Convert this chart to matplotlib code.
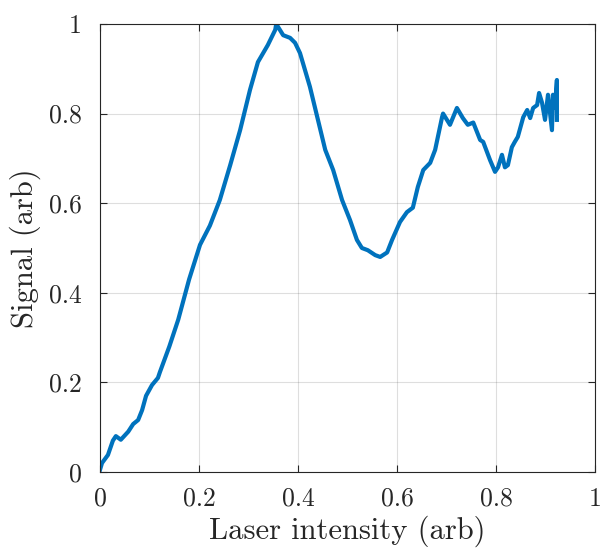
import numpy as np
import matplotlib.pyplot as plt

plt.rcParams['font.family'] = 'serif'
plt.rcParams['font.serif'] = ['cmr10']
plt.rcParams['mathtext.fontset'] = 'cm'
plt.rcParams['axes.formatter.use_mathtext'] = True

# valeurs
intensity = [0.0, 0.004, 0.016, 0.026, 0.032, 0.042, 0.057, 0.067, 0.077, 0.085,
             0.093, 0.105, 0.117, 0.121, 0.14, 0.158, 0.18, 0.202, 0.222, 0.242,
             0.263, 0.283, 0.303, 0.319, 0.339, 0.354, 0.356, 0.37, 0.384, 0.394,
             0.404, 0.424, 0.455, 0.471, 0.489, 0.505, 0.519, 0.529, 0.541, 0.556,
             0.566, 0.58, 0.59, 0.606, 0.62, 0.632, 0.642, 0.653, 0.667, 0.677,
             0.691, 0.693, 0.707, 0.721, 0.733, 0.743, 0.754, 0.768, 0.774, 0.788,
             0.798, 0.804, 0.812, 0.818, 0.824, 0.832, 0.838, 0.844, 0.855, 0.863,
             0.869, 0.875, 0.883, 0.887, 0.893, 0.899, 0.905, 0.913, 0.915, 0.919,
             0.923, 0.923]
signal = [0.005, 0.02, 0.038, 0.07, 0.08, 0.072, 0.09, 0.107, 0.116, 0.138,
          0.17, 0.194, 0.21, 0.223, 0.28, 0.34, 0.43, 0.507, 0.55, 0.607,
          0.685, 0.763, 0.853, 0.915, 0.953, 0.987, 1.0, 0.975, 0.969, 0.958,
          0.935, 0.86, 0.719, 0.674, 0.607, 0.5625, 0.518, 0.5, 0.495, 0.484,
          0.48, 0.49, 0.518, 0.558, 0.58, 0.59, 0.636, 0.674, 0.69, 0.719,
          0.792, 0.80, 0.775, 0.8125, 0.79, 0.775, 0.78, 0.741, 0.737, 0.696,
          0.67, 0.68, 0.708, 0.68, 0.685, 0.725, 0.737, 0.748, 0.792, 0.808,
          0.79, 0.8125, 0.819, 0.846, 0.824, 0.786, 0.842, 0.763, 0.842, 0.8125,
          0.875, 0.786]
ticks = [0, 0.2, 0.4, 0.6, 0.8, 1]
tick_labels = ['0', '0.2', '0.4', '0.6', '0.8', '1']

fig = plt.figure(figsize=(6, 5.49), dpi=100)
ax = fig.add_axes([0.1667, 0.1403, 0.825, 0.816])

ax.plot(intensity, signal, color='#0072BD', linewidth=3.0, solid_joinstyle='round')

ax.set_xlim(0, 1)
ax.set_ylim(0, 1)
ax.set_xticks(ticks)
ax.set_yticks(ticks)
ax.set_xticklabels(tick_labels)
ax.set_yticklabels(tick_labels)
ax.tick_params(direction='in', top=True, right=True, labelsize=18.5, colors='#262626',
               length=5, width=0.8)
ax.tick_params(axis='x', pad=11)
ax.tick_params(axis='y', pad=13)
ax.grid(True, color='#262626', alpha=0.15, linewidth=0.8)
for s in ax.spines.values():
    s.set_color('#262626')
    s.set_linewidth(0.8)

ax.set_xlabel('Laser intensity (arb)', fontsize=22, color='#262626', labelpad=3)
ax.set_ylabel('Signal (arb)', fontsize=22, color='#262626', labelpad=6)

plt.savefig('out.png', dpi=100)
